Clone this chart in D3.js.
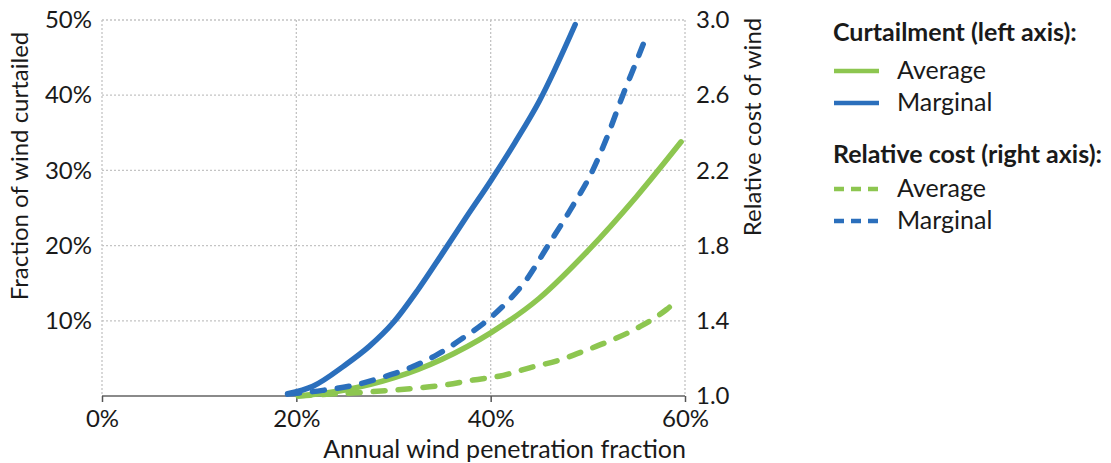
<!DOCTYPE html>
<html>
<head>
<meta charset="utf-8">
<script src="https://cdn.jsdelivr.net/npm/d3@7"></script>
<style>
  body { margin: 0; background: #fff; }
  text { font-family: Lato, "Open Sans", sans-serif; fill: #1a1a1a; }
</style>
</head>
<body>
<div id="chart"></div>
<script>
// data: [wind penetration %, value]
const curtailAverage = [[20.2,0],[25,0.8],[30,2.4],[35,4.9],[40,8.4],[45,13.0],[50,19.3],[55,26.5],[59.6,33.8]];
const curtailMarginal = [[19.1,0.3],[21.7,1.3],[25,4.1],[27.5,6.6],[30,9.8],[32.5,14.1],[35,18.9],[37.5,23.8],[40,28.6],[42.5,33.7],[45,39.2],[48.7,49.4]];
const costAverage = [[20.2,1.0],[23.5,1.01],[26.9,1.02],[32,1.04],[35.5,1.06],[38.2,1.085],[41.3,1.11],[44,1.15],[47,1.19],[49.9,1.245],[52.6,1.3],[55.4,1.37],[58.1,1.46],[58.8,1.49]];
const costMarginal = [[19.1,1.01],[22.7,1.03],[26.2,1.06],[28.9,1.1],[31.7,1.15],[34.5,1.22],[37.2,1.31],[39.6,1.4],[41.5,1.49],[43.7,1.62],[45.9,1.8],[48.2,1.99],[50.5,2.2],[52,2.38],[53.6,2.6],[55,2.78],[56,2.91]];

const xTicks = [0, 20, 40, 60];
const leftTicks = [10, 20, 30, 40, 50];
const rightTicks = [1.0, 1.4, 1.8, 2.2, 2.6, 3.0];

const blue = "#2b6fbc";
const green = "#8dc650";

const width = 1111, height = 463;
const plot = { left: 102, right: 685, top: 20, bottom: 396 };

const svg = d3.select("#chart").append("svg")
  .attr("width", width)
  .attr("height", height);

const x = d3.scaleLinear().domain([0, 60]).range([plot.left, plot.right]);
const yL = d3.scaleLinear().domain([0, 50]).range([plot.bottom, plot.top]);
const yR = d3.scaleLinear().domain([1, 3]).range([plot.bottom, plot.top]);

// dotted grid
const grid = svg.append("g")
  .attr("stroke", "#c4c4c4")
  .attr("stroke-width", 1.3)
  .attr("stroke-dasharray", "2,2");
grid.selectAll(".h").data(leftTicks).enter().append("line")
  .attr("x1", plot.left).attr("x2", plot.right)
  .attr("y1", d => yL(d)).attr("y2", d => yL(d));
grid.selectAll(".v").data(xTicks).enter().append("line")
  .attr("x1", d => x(d)).attr("x2", d => x(d))
  .attr("y1", plot.top).attr("y2", plot.bottom);

// bottom axis
const xAxis = svg.append("g")
  .attr("transform", "translate(0," + plot.bottom + ")")
  .call(d3.axisBottom(x).tickValues(xTicks).tickFormat(d => d + "%").tickSize(6).tickPadding(8));
xAxis.select(".domain").attr("stroke", "#8a8a8a").attr("stroke-width", 2).attr("d", "M" + plot.left + ",0H" + plot.right);
xAxis.selectAll(".tick line").attr("stroke", "#555").attr("stroke-width", 1.5);
xAxis.selectAll("text").attr("font-size", 24).attr("fill", "#1a1a1a");

// left axis labels
const lAxis = svg.append("g")
  .attr("transform", "translate(" + plot.left + ",0)")
  .call(d3.axisLeft(yL).tickValues(leftTicks).tickFormat(d => d + "%").tickSize(0).tickPadding(10));
lAxis.select(".domain").remove();
lAxis.selectAll("text").attr("font-size", 24).attr("fill", "#1a1a1a");

// right axis labels
const rAxis = svg.append("g")
  .attr("transform", "translate(" + plot.right + ",0)")
  .call(d3.axisRight(yR).tickValues(rightTicks).tickFormat(d3.format(".1f")).tickSize(0).tickPadding(11));
rAxis.select(".domain").remove();
rAxis.selectAll("text").attr("font-size", 24).attr("fill", "#1a1a1a");

// axis titles
svg.append("text")
  .attr("transform", "translate(28,166) rotate(-90)")
  .attr("text-anchor", "middle")
  .attr("font-size", 24)
  .text("Fraction of wind curtailed");
svg.append("text")
  .attr("transform", "translate(761,127) rotate(-90)")
  .attr("text-anchor", "middle")
  .attr("font-size", 24)
  .text("Relative cost of wind");
svg.append("text")
  .attr("x", 686).attr("y", 458)
  .attr("text-anchor", "end")
  .attr("font-size", 25)
  .text("Annual wind penetration fraction");

// lines
const lineL = d3.line().x(d => x(d[0])).y(d => yL(d[1])).curve(d3.curveMonotoneX);
const lineR = d3.line().x(d => x(d[0])).y(d => yR(d[1])).curve(d3.curveMonotoneX);

const series = [
  { data: costAverage, line: lineR, color: green, dash: true },
  { data: curtailAverage, line: lineL, color: green, dash: false },
  { data: costMarginal, line: lineR, color: blue, dash: true },
  { data: curtailMarginal, line: lineL, color: blue, dash: false }
];

svg.append("g").selectAll("path").data(series).enter().append("path")
  .attr("d", s => s.line(s.data))
  .attr("fill", "none")
  .attr("stroke", s => s.color)
  .attr("stroke-width", 5.5)
  .attr("stroke-linecap", "round")
  .attr("stroke-dasharray", s => s.dash ? "12,13" : null);

// legend
const legend = svg.append("g").attr("transform", "translate(832,0)");
const legendItems = [
  { type: "title", label: "Curtailment (left axis):", y: 41 },
  { type: "item", label: "Average", color: green, dash: false, y: 71 },
  { type: "item", label: "Marginal", color: blue, dash: false, y: 103 },
  { type: "title", label: "Relative cost (right axis):", y: 163 },
  { type: "item", label: "Average", color: green, dash: true, y: 189 },
  { type: "item", label: "Marginal", color: blue, dash: true, y: 221 }
];
legendItems.forEach(it => {
  if (it.type === "title") {
    legend.append("text").attr("x", 1).attr("y", it.y)
      .attr("font-size", 25).attr("font-weight", "bold").text(it.label);
  } else {
    legend.append("line")
      .attr("x1", 2).attr("x2", 47).attr("y1", it.y).attr("y2", it.y)
      .attr("stroke", it.color).attr("stroke-width", 4.5)
      .attr("stroke-dasharray", it.dash ? "10,7" : null);
    legend.append("text").attr("x", 65).attr("y", it.y + 8)
      .attr("font-size", 25).text(it.label);
  }
});
</script>
</body>
</html>
